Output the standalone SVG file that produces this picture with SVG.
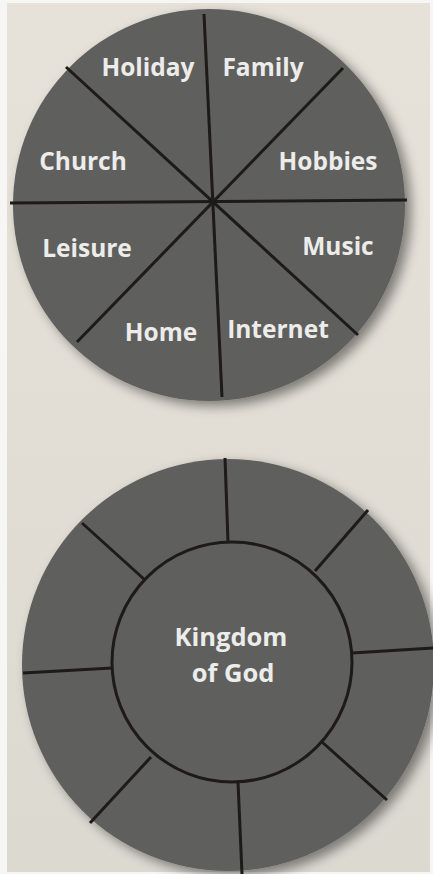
<svg xmlns="http://www.w3.org/2000/svg" width="433" height="874" viewBox="0 0 433 874">
<defs>
<linearGradient id="page" x1="0" y1="0" x2="0" y2="1">
<stop offset="0" stop-color="#e7e2d9"/>
<stop offset="1" stop-color="#dcd9d1"/>
</linearGradient>
<filter id="shadow" x="-20%" y="-20%" width="140%" height="140%">
<feGaussianBlur in="SourceAlpha" stdDeviation="6"/>
<feOffset dx="6" dy="5" result="b"/>
<feFlood flood-color="#000" flood-opacity="0.45"/>
<feComposite in2="b" operator="in"/>
<feMerge><feMergeNode/><feMergeNode in="SourceGraphic"/></feMerge>
</filter>
<style>
.disc{fill:#5f5f5d;}
.spoke{stroke:#1d1b19;stroke-width:3;fill:none;stroke-linecap:butt;}
.lbl{font-family:"Open Sans","Liberation Sans",sans-serif;font-weight:700;font-size:24.5px;fill:#ececeb;text-anchor:middle;}
.big{font-size:25.5px;}
</style>
</defs>
<rect x="0" y="0" width="433" height="874" fill="#f6f6f4"/>
<rect x="7" y="3" width="423" height="869" fill="url(#page)"/>

<g id="wheel-top">
<circle class="disc" cx="209" cy="205" r="196" filter="url(#shadow)"/>
</g>
<g id="connectors-top">
<line class="spoke" x1="204" y1="14" x2="222" y2="397"/>
<line class="spoke" x1="10" y1="203" x2="407" y2="200"/>
<line class="spoke" x1="66" y1="67" x2="358" y2="335"/>
<line class="spoke" x1="343" y1="68" x2="77" y2="342"/>
</g>
<g id="label-holiday"><text class="lbl" x="148" y="76">Holiday</text></g>
<g id="label-family"><text class="lbl" x="263" y="76">Family</text></g>
<g id="label-church"><text class="lbl" x="83" y="170">Church</text></g>
<g id="label-hobbies"><text class="lbl" x="328" y="170">Hobbies</text></g>
<g id="label-leisure"><text class="lbl" x="87" y="257">Leisure</text></g>
<g id="label-music"><text class="lbl" x="338" y="255">Music</text></g>
<g id="label-home"><text class="lbl" x="161" y="341">Home</text></g>
<g id="label-internet"><text class="lbl" x="278" y="338">Internet</text></g>

<g id="wheel-bottom">
<circle class="disc" cx="228" cy="665" r="206" filter="url(#shadow)"/>
</g>
<g id="connectors-bottom">
<circle class="spoke" cx="232" cy="662" r="120"/>
<line class="spoke" x1="225" y1="458" x2="228" y2="542"/>
<line class="spoke" x1="368" y1="510" x2="315" y2="571"/>
<line class="spoke" x1="434" y1="648" x2="352" y2="653"/>
<line class="spoke" x1="387" y1="800" x2="322" y2="742"/>
<line class="spoke" x1="238" y1="782" x2="242" y2="874"/>
<line class="spoke" x1="151" y1="757" x2="90" y2="823"/>
<line class="spoke" x1="23" y1="673" x2="112" y2="668"/>
<line class="spoke" x1="82" y1="523" x2="145" y2="580"/>
</g>
<g id="center-kingdom">
<text class="lbl big" x="231" y="646">Kingdom</text>
<text class="lbl big" x="233" y="682">of God</text>
</g>
</svg>
